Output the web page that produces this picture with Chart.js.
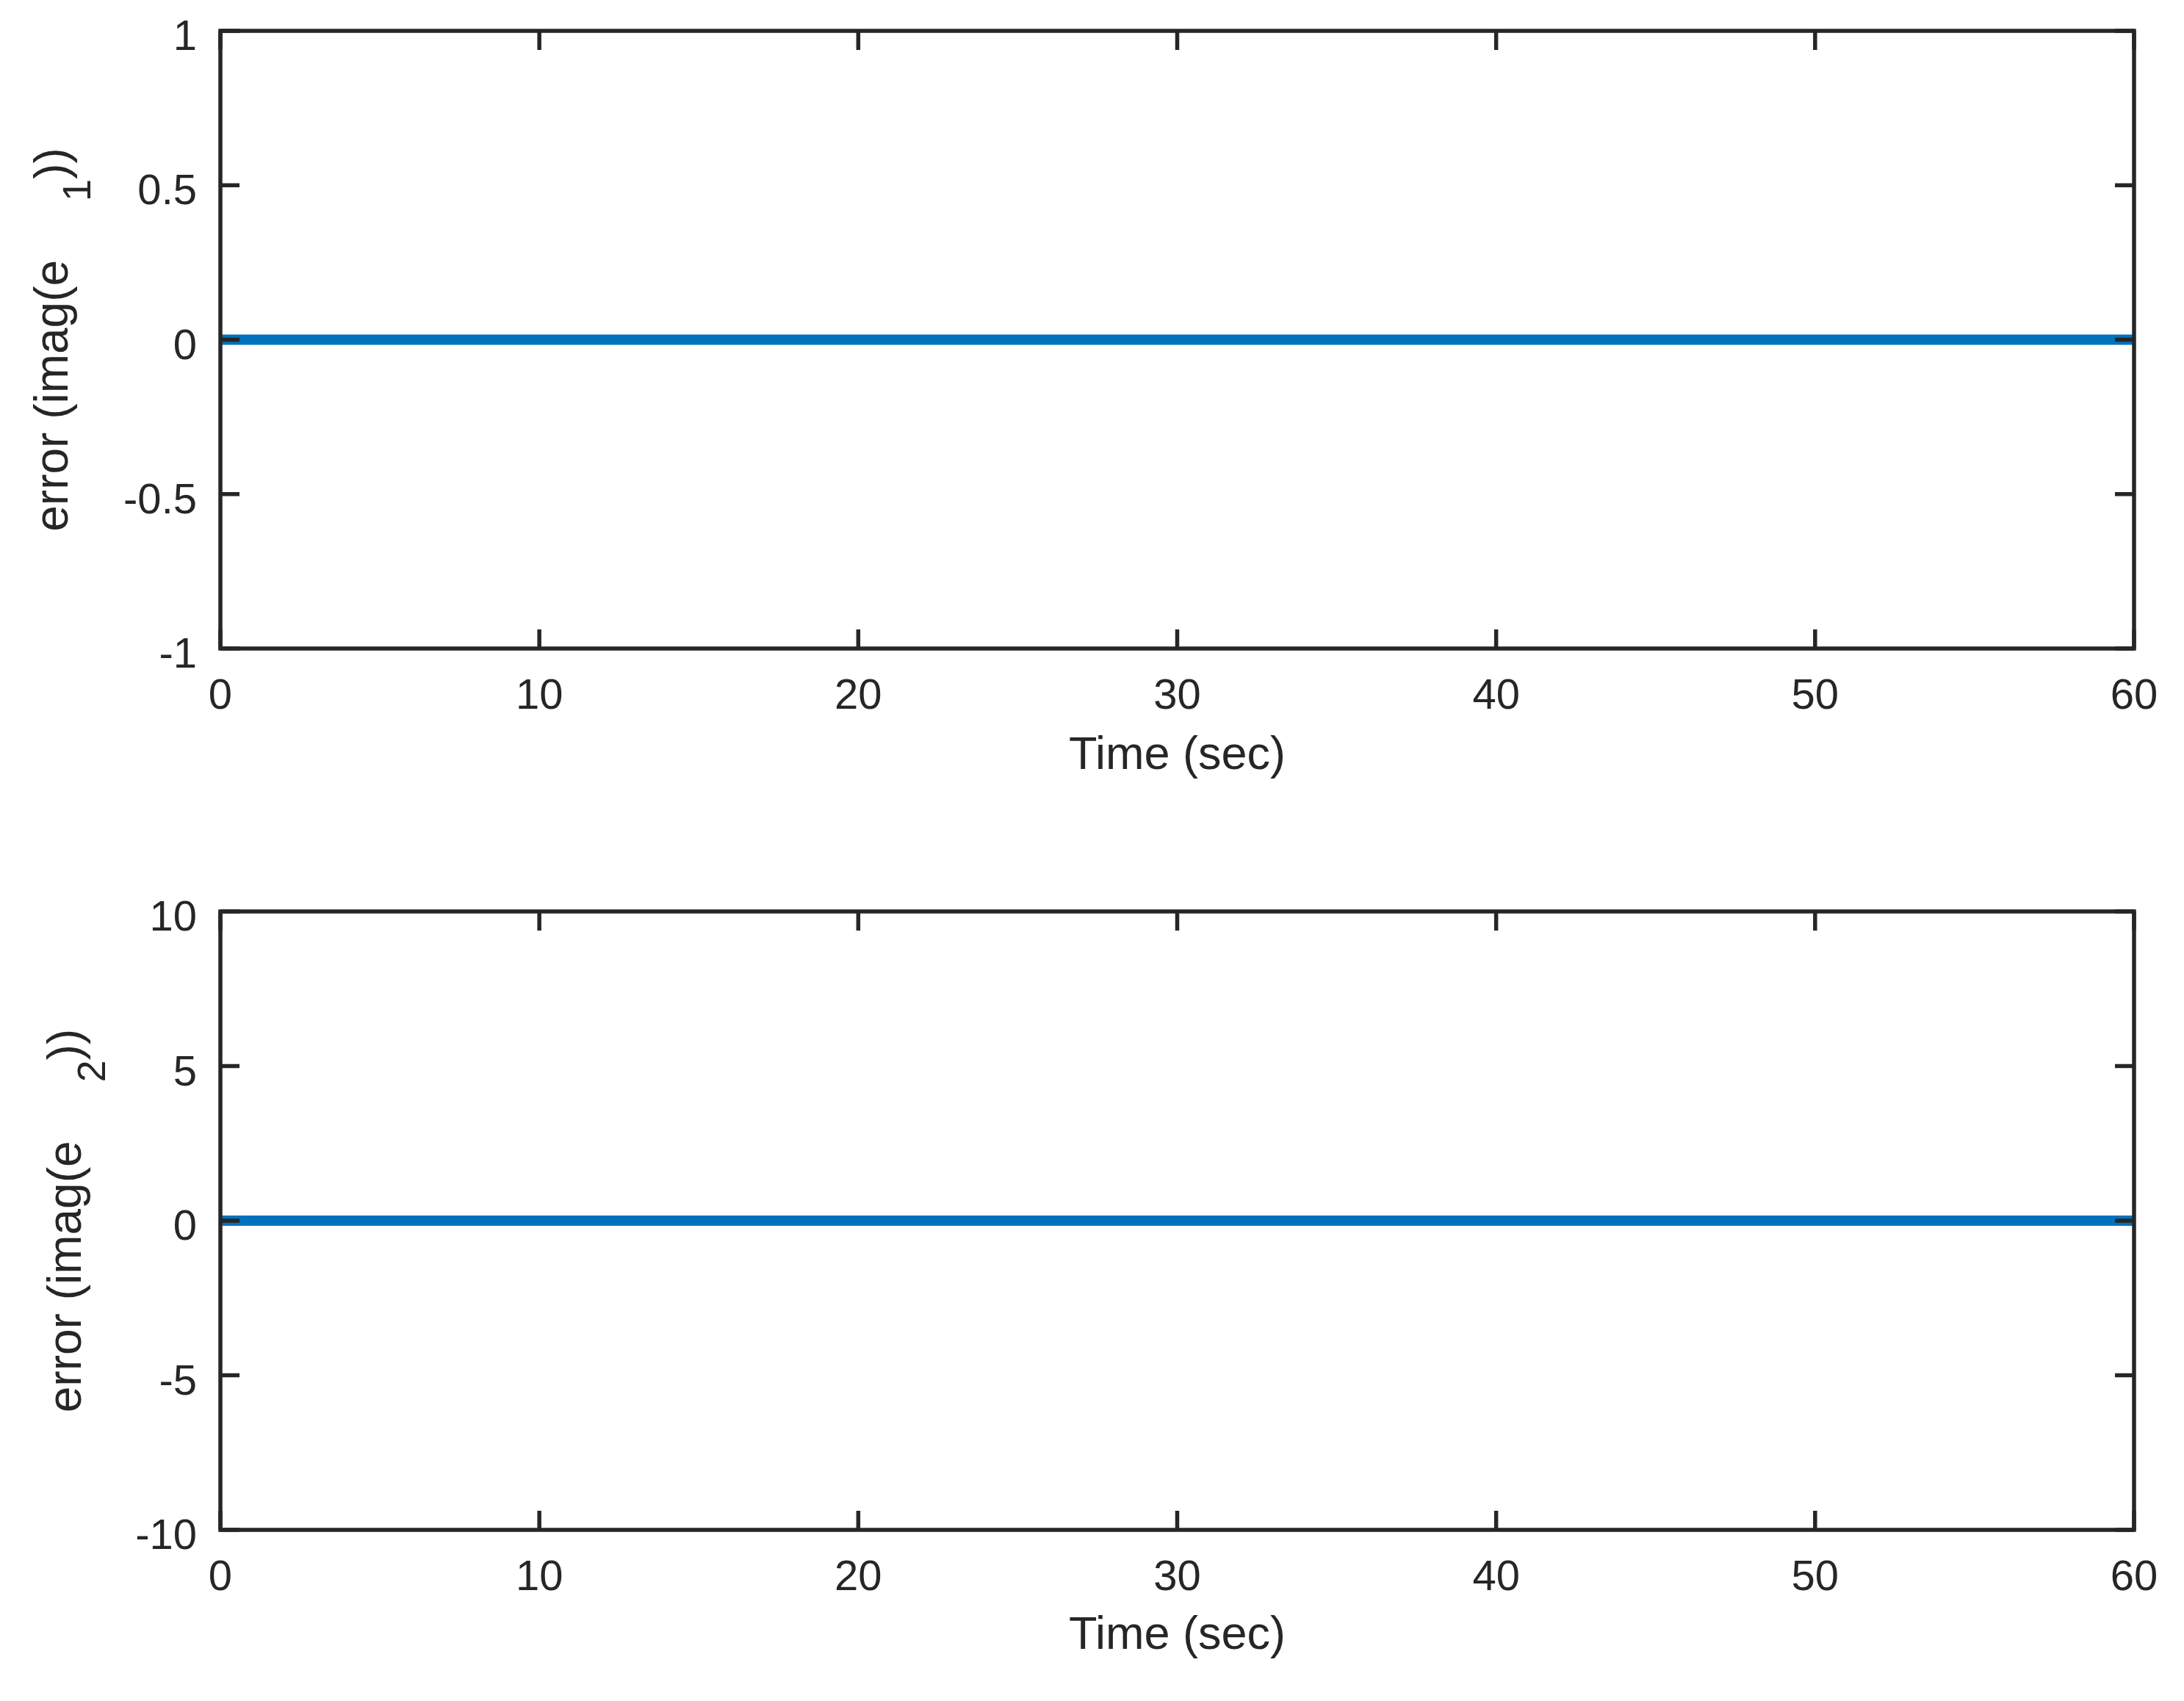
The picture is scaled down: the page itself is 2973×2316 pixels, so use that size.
<!DOCTYPE html>
<html>
<head>
<meta charset="utf-8">
<script src="https://cdn.jsdelivr.net/npm/chart.js@4.4.1/dist/chart.umd.min.js"></script>
<style>
  html, body { margin: 0; padding: 0; background: #fff; }
  .panel { position: absolute; left: 0; width: 2973px; height: 1158px; }
</style>
</head>
<body>
<div class="panel" style="top:0"><canvas id="chart1" width="2973" height="1158"></canvas></div>
<div class="panel" style="top:1158px"><canvas id="chart2" width="2973" height="1158"></canvas></div>
<script>
// Data: both imaginary-part errors stay at zero
const timeSec = [0, 10, 20, 30, 40, 50, 60];
const errImag1 = [0, 0, 0, 0, 0, 0, 0];
const errImag2 = [0, 0, 0, 0, 0, 0, 0];

// Tick labels
const xTicks = [0, 10, 20, 30, 40, 50, 60];
const yTicks1 = [-1, -0.5, 0, 0.5, 1];
const yTicks2 = [-10, -5, 0, 5, 10];

const AXIS = '#262626';
const LINE = '#0072BD';
const FONT = "'Liberation Sans', Arial, Helvetica, sans-serif";
const TICK_LEN = 26;

// Box around the plot area plus inward tick marks (MATLAB style)
const axesFrame = {
    id: 'axesFrame',
    afterDraw(chart) {
        const { ctx, chartArea: a, scales: { x, y } } = chart;
        ctx.save();
        ctx.strokeStyle = AXIS;
        ctx.lineWidth = 5.5;
        ctx.beginPath();
        x.ticks.forEach(t => {
            const px = x.getPixelForValue(t.value);
            ctx.moveTo(px, a.bottom); ctx.lineTo(px, a.bottom - TICK_LEN);
            ctx.moveTo(px, a.top); ctx.lineTo(px, a.top + TICK_LEN);
        });
        y.ticks.forEach(t => {
            const py = y.getPixelForValue(t.value);
            ctx.moveTo(a.left, py); ctx.lineTo(a.left + TICK_LEN, py);
            ctx.moveTo(a.right, py); ctx.lineTo(a.right - TICK_LEN, py);
        });
        ctx.stroke();
        ctx.strokeRect(a.left, a.top, a.width, a.height);
        ctx.restore();
    }
};

// Rotated y label with a subscript
const yLabel = {
    id: 'ylabel',
    afterDraw(chart, args, o) {
        const { ctx, chartArea: a } = chart;
        const mainFont = `64px ${FONT}`;
        const subFont = `54px ${FONT}`;
        ctx.save();
        ctx.fillStyle = AXIS;
        ctx.textAlign = 'left';
        ctx.textBaseline = 'alphabetic';
        ctx.font = mainFont;
        const wMain = ctx.measureText(o.main).width;
        const wClose = ctx.measureText(o.close).width;
        ctx.font = subFont;
        const wSub = ctx.measureText(o.sub).width;
        const total = wMain + o.gap + wSub + wClose;
        ctx.translate(o.baseX, (a.top + a.bottom) / 2 + total / 2);
        ctx.rotate(-Math.PI / 2);
        ctx.font = mainFont;
        ctx.fillText(o.main, 0, 0);
        ctx.font = subFont;
        ctx.fillText(o.sub, wMain + o.gap, o.subDy);
        ctx.font = mainFont;
        ctx.fillText(o.close, wMain + o.gap + wSub, 0);
        ctx.restore();
    }
};

function makePanel(id, values, yTicks, geo, label) {
    return new Chart(document.getElementById(id), {
        type: 'line',
        data: {
            datasets: [{
                data: timeSec.map((t, i) => ({ x: t, y: values[i] })),
                borderColor: LINE,
                borderWidth: 14,
                pointRadius: 0,
                fill: false,
                tension: 0
            }]
        },
        options: {
            responsive: false,
            animation: false,
            layout: { padding: { top: geo.top, right: 68, left: 0, bottom: 0 } },
            plugins: {
                legend: { display: false },
                tooltip: { enabled: false },
                ylabel: label
            },
            scales: {
                x: {
                    type: 'linear',
                    min: xTicks[0],
                    max: xTicks[xTicks.length - 1],
                    afterBuildTicks: s => { s.ticks = xTicks.map(v => ({ value: v })); },
                    afterFit: s => { s.height = geo.xAxisH; s.paddingLeft = 0; s.paddingRight = 0; },
                    grid: { display: false, drawTicks: false },
                    border: { display: false },
                    ticks: {
                        color: AXIS,
                        font: { family: FONT, size: 58 },
                        padding: 31,
                        maxRotation: 0,
                        autoSkip: false,
                        callback: v => String(v)
                    },
                    title: {
                        display: true,
                        text: 'Time (sec)',
                        color: AXIS,
                        font: { family: FONT, size: 63 },
                        padding: { top: 0, bottom: geo.titlePad }
                    }
                },
                y: {
                    type: 'linear',
                    min: yTicks[0],
                    max: yTicks[yTicks.length - 1],
                    afterBuildTicks: s => { s.ticks = yTicks.map(v => ({ value: v })); },
                    afterFit: s => { s.width = 300; s.paddingTop = 0; s.paddingBottom = 0; },
                    grid: { display: false, drawTicks: false },
                    border: { display: false },
                    ticks: {
                        color: AXIS,
                        font: { family: FONT, size: 58 },
                        padding: 32,
                        labelOffset: 10,
                        autoSkip: false,
                        callback: v => String(v)
                    }
                }
            }
        },
        plugins: [axesFrame, yLabel]
    });
}

makePanel('chart1', errImag1, yTicks1,
    { top: 42, xAxisH: 275, titlePad: 91 },
    { main: 'error (imag(e', sub: '1', close: '))', gap: 80, baseX: 92, subDy: 31 });

makePanel('chart2', errImag2, yTicks2,
    { top: 83, xAxisH: 233, titlePad: 51 },
    { main: 'error (imag(e', sub: '2', close: '))', gap: 80, baseX: 110, subDy: 33 });
</script>
</body>
</html>
